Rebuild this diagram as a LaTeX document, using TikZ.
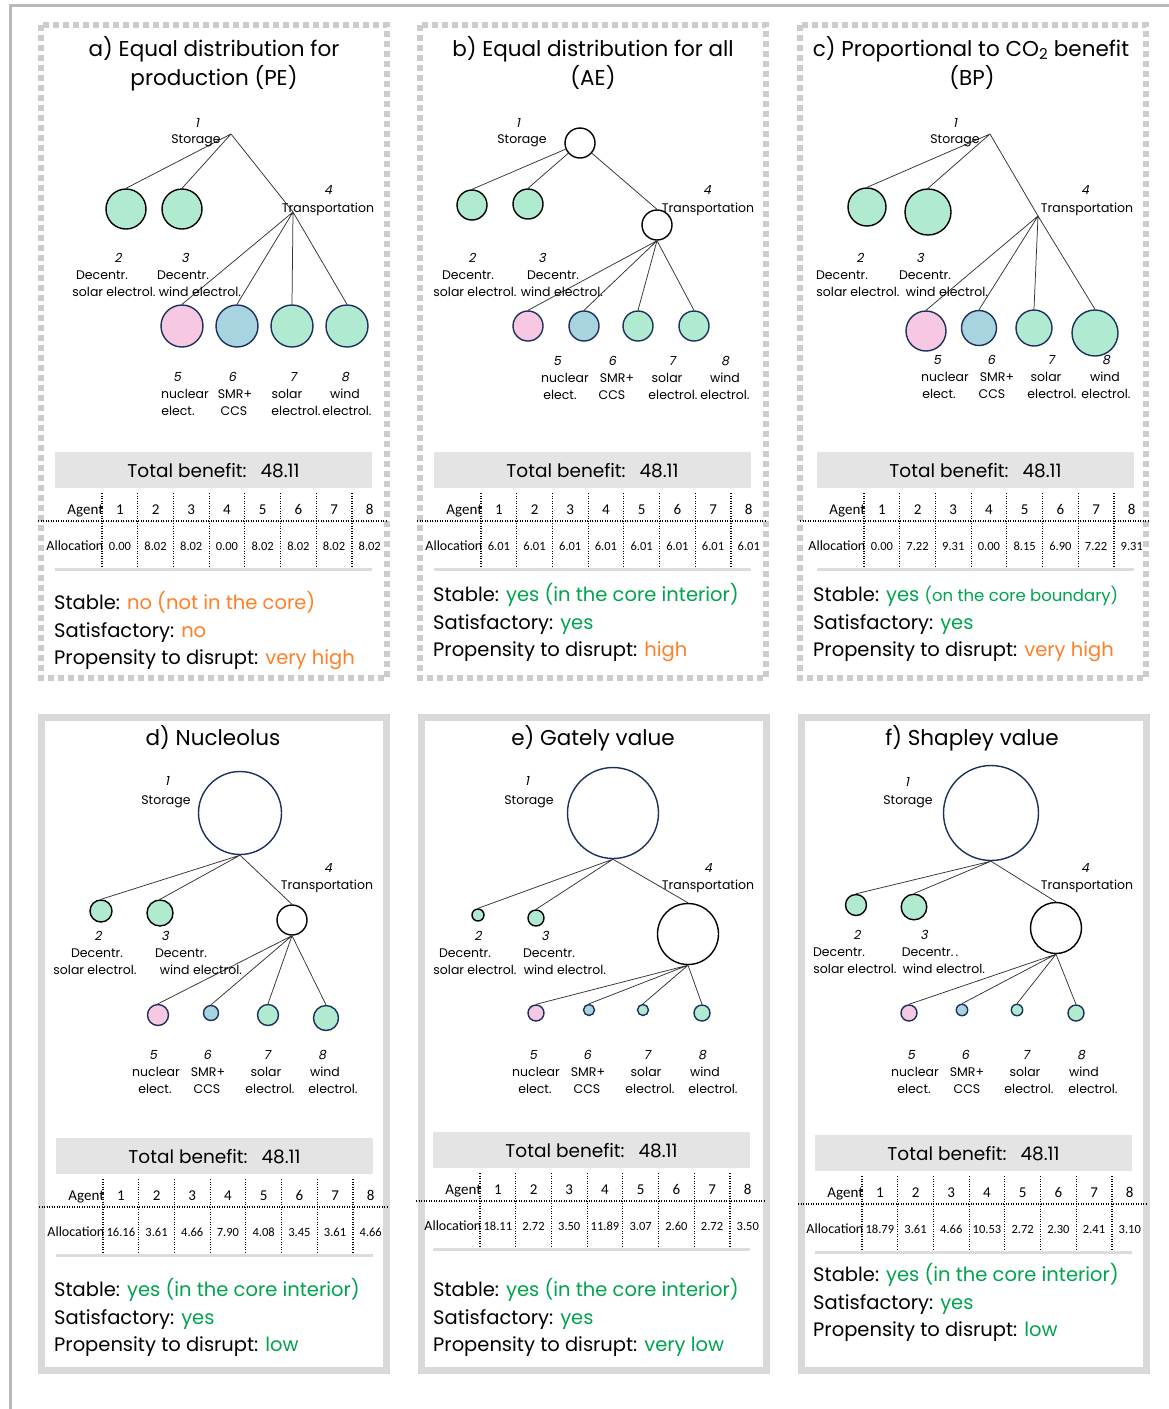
\documentclass[tikz,border=0pt]{standalone}
\usepackage{fontspec}
\setmainfont{Poppins}
\newfontfamily\numfont[FakeSlant=0.2]{Poppins}
\newfontfamily\tabfont{Carlito}

\definecolor{mint}{RGB}{176,234,208}
\definecolor{pinkc}{RGB}{247,200,226}
\definecolor{bluec}{RGB}{168,212,224}
\definecolor{navy}{RGB}{28,48,94}
\definecolor{orng}{RGB}{255,127,39}
\definecolor{grn}{RGB}{0,163,78}
\definecolor{framegray}{RGB}{185,185,185}
\definecolor{dashgray}{RGB}{204,204,204}
\definecolor{boxgray}{RGB}{217,217,217}
\definecolor{tbgray}{RGB}{228,228,228}
\definecolor{rulegray}{RGB}{220,220,220}

\tikzset{
  agent/.style={circle, draw, line width=1.4pt, inner sep=0pt, minimum size={2*#1}},
  cg/.style={agent=#1, fill=mint, draw=black},
  cgn/.style={agent=#1, fill=mint, draw=navy},
  cp/.style={agent=#1, fill=pinkc, draw=navy},
  cb/.style={agent=#1, fill=bluec, draw=navy},
  cw/.style={agent=#1, fill=white, draw=black},
  cwn/.style={agent=#1, fill=white, draw=navy},
  conn/.style={draw=black!80, line width=0.75pt},
  lbl/.style={inner sep=0pt, anchor=base, font=\fontsize{12.5}{15}\selectfont},
  numlbl/.style={inner sep=0pt, anchor=base, font=\numfont\fontsize{12.5}{15}\selectfont},
  ttl/.style={inner sep=0pt, anchor=base, font=\fontsize{21.5}{26}\selectfont},
  stat/.style={inner sep=0pt, anchor=base west, font=\fontsize{19.5}{24}\selectfont},
  tbtext/.style={inner sep=0pt, anchor=base, font=\fontsize{18.5}{22}\selectfont},
  thead/.style={inner sep=0pt, anchor=base, font=\tabfont\fontsize{15}{17}\selectfont},
  tval/.style={inner sep=0pt, anchor=base, font=\tabfont\fontsize{12.5}{14}\selectfont},
  tdot/.style={line width=1.2pt, dash pattern=on 1.2pt off 1.3pt},
  dashframe/.style={draw=dashgray, line width=6pt, dash pattern=on 6pt off 4pt},
  solidframe/.style={draw=boxgray, line width=7pt},
}

% agent label: number, then two text lines
\newcommand\lab[8]{%
  \node[numlbl] (#1n) at ({#2},{#3}) {#4};
  \node[lbl] (#1a) at ({#5},{#3+17}) {#6};
  \node[lbl] (#1b) at ({#7},{#3+34}) {#8};
}

% total benefit bar and allocation table; #2 = x of first column rule, #3 = centre of the bar
\newcommand\btable[4]{%
  \fill[tbgray] ({#2-47},{#3-18}) rectangle ({#2+270},{#3+18});
  \node[tbtext] (#1tb) at ({#2+111.5},{#3+7}) {Total benefit:\hspace{0.75em}48.11};
  \foreach \k in {0,...,7}
    \draw[tdot] ({#2+35.7*\k},{#3+23}) -- ({#2+35.7*\k},{#3+97});
  \draw[tdot] ({#2-64},{#3+51}) -- ({#2+285},{#3+51});
  \node[thead, anchor=base east] (#1ag) at ({#2+1.5},{#3+44}) {Agent};
  \node[thead, anchor=base east, font=\tabfont\fontsize{14}{16}\selectfont] (#1al) at ({#2+1.5},{#3+80}) {Allocation};
  \foreach \v [count=\i] in {#4} {
    \node[thead] (#1h\i) at ({#2+35.7*\i-17.85},{#3+44}) {\i};
    \node[tval] (#1v\i) at ({#2+35.7*\i-17.85},{#3+80}) {\v};
  }
  \draw[rulegray, line width=3pt] ({#2-47},{#3+99}) -- ({#2+270},{#3+99});
}

% three assessment lines
\newcommand\stats[6]{%
  \node[stat] (#1s1) at ({#2},{#3}) {#4};
  \node[stat] (#1s2) at ({#2},{#3+28}) {#5};
  \node[stat] (#1s3) at ({#2},{#3+55}) {#6};
}

\begin{document}
\begin{tikzpicture}[x=1pt,y=-1pt]
\useasboundingbox (0,0) rectangle (1169,1409);
\fill[white] (0,0) rectangle (1169,1409);

% outer frame
\draw[framegray, line width=3pt] (10,1409) -- (10,5.5) -- (1169,5.5);

% panel frames
\draw[dashframe] (41,25) rectangle (387,678);
\draw[dashframe] (420,25) rectangle (766,678);
\draw[dashframe] (800,25) rectangle (1146,678);
\draw[solidframe] (41,717) rectangle (386,1370);
\draw[solidframe] (421,717) rectangle (766,1370);
\draw[solidframe] (801,717) rectangle (1146,1370);

% ---------------- a) PE
\node[ttl] (at1) at (214,56) {a) Equal distribution for};
\node[ttl] (at2) at (214,85) {production (PE)};
\coordinate (a1) at (231,134);
\coordinate (a4) at (293,212);
\node[cg=20] (a2) at (126,209) {};
\node[cg=20] (a3) at (182,209) {};
\node[cp=21] (a5) at (182,326) {};
\node[cb=21] (a6) at (237,326) {};
\node[cgn=21] (a7) at (292,326) {};
\node[cgn=21] (a8) at (347,326) {};
\draw[conn] (a1) -- (a2.north) (a1) -- (a3.north) (a1) -- (a4)
  (a4) -- (a5.north) (a4) -- (a6.north) (a4) -- (a7.north) (a4) -- (a8.north);
\node[numlbl] (a1n) at (197,127) {1};
\node[lbl] (a1a) at (196,143) {Storage};
\node[numlbl] (a4n) at (328,194) {4};
\node[lbl] (a4a) at (328,212) {Transportation};
\lab{a2}{118}{262}{2}{102}{Decentr.}{114}{solar electrol.}
\lab{a3}{185}{262}{3}{183}{Decentr.}{200}{wind electrol.}
\lab{a5}{177}{381}{5}{185}{nuclear}{178}{elect.}
\lab{a6}{232}{381}{6}{235}{SMR+}{234}{CCS}
\lab{a7}{293}{381}{7}{287}{solar}{296}{electrol.}
\lab{a8}{345}{381}{8}{345}{wind}{347}{electrol.}
\btable{a}{102}{470}{0.00,8.02,8.02,0.00,8.02,8.02,8.02,8.02}
\stats{a}{54}{609}{Stable: \textcolor{orng}{no (not in the core)}}{Satisfactory: \textcolor{orng}{no}}{Propensity to disrupt: \textcolor{orng}{very high}}

% ---------------- b) AE
\node[ttl] (bt1) at (593,56) {b) Equal distribution for all};
\node[ttl] (bt2) at (593,85) {(AE)};
\node[cw=15] (b1) at (580,143) {};
\node[cw=15] (b4) at (657,225) {};
\node[cg=15] (b2) at (472,205) {};
\node[cg=15] (b3) at (528,204) {};
\node[cp=15] (b5) at (528,326) {};
\node[cb=15] (b6) at (584,326) {};
\node[cgn=15] (b7) at (638,326) {};
\node[cgn=15] (b8) at (694,326) {};
\draw[conn] (b1) -- (b2.north) (b1) -- (b3.north) (b1) -- (b4.north)
  (b4.south) -- (b5.north) (b4.south) -- (b6.north) (b4.south) -- (b7.north) (b4.south) -- (b8.north);
\node[numlbl] (b1n) at (518,127) {1};
\node[lbl] (b1a) at (522,143) {Storage};
\node[numlbl] (b4n) at (707,194) {4};
\node[lbl] (b4a) at (708,212) {Transportation};
\lab{b2}{472}{262}{2}{468}{Decentr.}{475}{solar electrol.}
\lab{b3}{542}{262}{3}{553}{Decentr.}{562}{wind electrol.}
\lab{b5}{557}{365}{5}{565}{nuclear}{560}{elect.}
\lab{b6}{612}{365}{6}{617}{SMR+}{612}{CCS}
\lab{b7}{672}{365}{7}{667}{solar}{673}{electrol.}
\lab{b8}{725}{365}{8}{725}{wind}{725}{electrol.}
\btable{b}{481}{470}{6.01,6.01,6.01,6.01,6.01,6.01,6.01,6.01}
\stats{b}{433}{601}{Stable: \textcolor{grn}{yes (in the core interior)}}{Satisfactory: \textcolor{grn}{yes}}{Propensity to disrupt: \textcolor{orng}{high}}

% ---------------- c) BP
\node[ttl] (ct1) at (971,56) {c) Proportional to CO\textsubscript{2} benefit};
\node[ttl] (ct2) at (972,85) {(BP)};
\coordinate (c1) at (990,134);
\coordinate (c4) at (1038,216);
\node[cg=19] (c2) at (867,207) {};
\node[cg=23] (c3) at (928,212) {};
\node[cp=20] (c5) at (926,331) {};
\node[cb=17.5] (c6) at (979,328) {};
\node[cgn=18] (c7) at (1034,328) {};
\node[cgn=23] (c8) at (1095,333) {};
\draw[conn] (c1) -- (c2.north) (c1) -- (c3.north) (c1) -- (c4)
  (c4) -- (c5.north) (c4) -- (c6.north) (c4) -- (c7.north) (c4) -- (c8.north);
\node[numlbl] (c1n) at (955,127) {1};
\node[lbl] (c1a) at (955,143) {Storage};
\node[numlbl] (c4n) at (1085,194) {4};
\node[lbl] (c4a) at (1087,212) {Transportation};
\lab{c2}{860}{262}{2}{842}{Decentr.}{858}{solar electrol.}
\lab{c3}{920}{262}{3}{925}{Decentr.}{947}{wind electrol.}
\lab{c5}{937}{364}{5}{945}{nuclear}{939}{elect.}
\lab{c6}{991}{364}{6}{997}{SMR+}{992}{CCS}
\lab{c7}{1051}{364}{7}{1046}{solar}{1052}{electrol.}
\lab{c8}{1106}{364}{8}{1105}{wind}{1106}{electrol.}
\btable{c}{864}{470}{0.00,7.22,9.31,0.00,8.15,6.90,7.22,9.31}
\stats{c}{813}{601}{Stable: \textcolor{grn}{yes {\fontsize{16.5}{18}\selectfont(on the core boundary)}}}{Satisfactory: \textcolor{grn}{yes}}{Propensity to disrupt: \textcolor{orng}{very high}}

% ---------------- d) Nucleolus
\node[ttl] (dt1) at (213,745) {d) Nucleolus};
\node[cwn=41.5] (d1) at (240,813) {};
\node[cw=15] (d4) at (292,920) {};
\node[cg=11] (d2) at (101,911) {};
\node[cg=13] (d3) at (160,913) {};
\node[cp=10.5] (d5) at (158,1015) {};
\node[cb=7.5] (d6) at (211,1013) {};
\node[cgn=10.5] (d7) at (268,1015) {};
\node[cgn=12.5] (d8) at (326,1018) {};
\draw[conn] (d1.south) -- (d2.north) (d1.south) -- (d3.north) (d1.south) -- (d4.north)
  (d4.south) -- (d5.north) (d4.south) -- (d6.north) (d4.south) -- (d7.north) (d4.south) -- (d8.north);
\node[numlbl] (d1n) at (167,785) {1};
\node[lbl] (d1a) at (166,804) {Storage};
\node[numlbl] (d4n) at (328,872) {4};
\node[lbl] (d4a) at (327,889) {Transportation};
\lab{d2}{98}{940}{2}{97}{Decentr.}{95}{solar electrol.}
\lab{d3}{165}{940}{3}{181}{Decentr.}{201}{wind electrol.}
\lab{d5}{153}{1059}{5}{156}{nuclear}{155}{elect.}
\lab{d6}{207}{1059}{6}{208}{SMR+}{207}{CCS}
\lab{d7}{267}{1059}{7}{266}{solar}{270}{electrol.}
\lab{d8}{322}{1059}{8}{325}{wind}{333}{electrol.}
\btable{d}{103}{1156}{16.16,3.61,4.66,7.90,4.08,3.45,3.61,4.66}
\stats{d}{54}{1296}{Stable: \textcolor{grn}{yes (in the core interior)}}{Satisfactory: \textcolor{grn}{yes}}{Propensity to disrupt: \textcolor{grn}{low}}

% ---------------- e) Gately value
\node[ttl] (et1) at (593,745) {e) Gately value};
\node[cwn=45.5] (e1) at (613,813) {};
\node[cw=30.5] (e4) at (688,934) {};
\node[cg=6] (e2) at (478,915) {};
\node[cg=8] (e3) at (536,918) {};
\node[cp=8] (e5) at (536,1013) {};
\node[cb=5.5] (e6) at (589,1010) {};
\node[cgn=5.5] (e7) at (643,1010) {};
\node[cgn=8] (e8) at (702,1013) {};
\draw[conn] (e1.south) -- (e2.north) (e1.south) -- (e3.north) (e1.south) -- (e4.north)
  (e4.south) -- (e5.north) (e4.south) -- (e6.north) (e4.south) -- (e7.north) (e4.south) -- (e8.north);
\node[numlbl] (e1n) at (527,785) {1};
\node[lbl] (e1a) at (529,804) {Storage};
\node[numlbl] (e4n) at (708,872) {4};
\node[lbl] (e4a) at (708,889) {Transportation};
\lab{e2}{478}{940}{2}{465}{Decentr.}{475}{solar electrol.}
\lab{e3}{545}{940}{3}{549}{Decentr.}{565}{wind electrol.}
\lab{e5}{533}{1059}{5}{536}{nuclear}{535}{elect.}
\lab{e6}{587}{1059}{6}{588}{SMR+}{587}{CCS}
\lab{e7}{647}{1059}{7}{646}{solar}{650}{electrol.}
\lab{e8}{702}{1059}{8}{705}{wind}{713}{electrol.}
\btable{e}{480}{1150}{18.11,2.72,3.50,11.89,3.07,2.60,2.72,3.50}
\stats{e}{433}{1296}{Stable: \textcolor{grn}{yes (in the core interior)}}{Satisfactory: \textcolor{grn}{yes}}{Propensity to disrupt: \textcolor{grn}{very low}}

% ---------------- f) Shapley value
\node[ttl] (ft1) at (972,745) {f) Shapley value};
\node[cwn=47.5] (f1) at (991,813) {};
\node[cw=25.5] (f4) at (1056,928) {};
\node[cg=10.5] (f2) at (856,905) {};
\node[cg=12.8] (f3) at (914,907) {};
\node[cp=8] (f5) at (909,1013) {};
\node[cb=5.7] (f6) at (962,1010) {};
\node[cgn=5.7] (f7) at (1017,1010) {};
\node[cgn=8] (f8) at (1076,1013) {};
\draw[conn] (f1.south) -- (f2.north) (f1.south) -- (f3.north) (f1.south) -- (f4.north)
  (f4.south) -- (f5.north) (f4.south) -- (f6.north) (f4.south) -- (f7.north) (f4.south) -- (f8.north);
\node[numlbl] (f1n) at (907,786) {1};
\node[lbl] (f1a) at (908,804) {Storage};
\node[numlbl] (f4n) at (1085,872) {4};
\node[lbl] (f4a) at (1087,889) {Transportation};
\lab{f2}{857}{939}{2}{839}{Decentr.}{855}{solar electrol.}
\lab{f3}{924}{939}{3}{930}{Decentr.\,.}{944}{wind electrol.}
\lab{f5}{911}{1059}{5}{915}{nuclear}{914}{elect.}
\lab{f6}{965}{1059}{6}{967}{SMR+}{967}{CCS}
\lab{f7}{1026}{1059}{7}{1025}{solar}{1029}{electrol.}
\lab{f8}{1081}{1059}{8}{1084}{wind}{1093}{electrol.}
\btable{f}{862}{1153}{18.79,3.61,4.66,10.53,2.72,2.30,2.41,3.10}
\stats{f}{813}{1281}{Stable: \textcolor{grn}{yes (in the core interior)}}{Satisfactory: \textcolor{grn}{yes}}{Propensity to disrupt: \textcolor{grn}{low}}
\end{tikzpicture}
\end{document}
